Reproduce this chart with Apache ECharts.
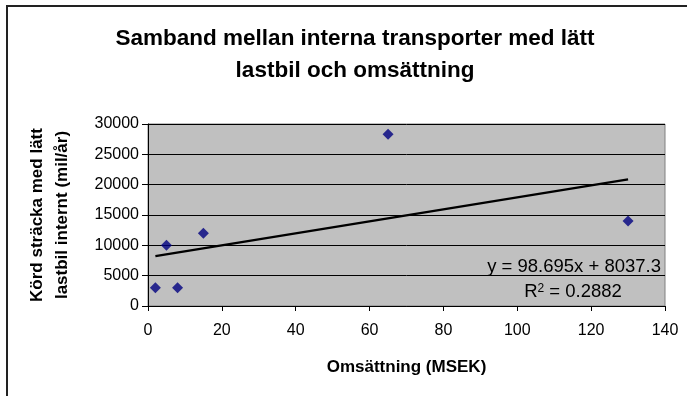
<!DOCTYPE html>
<html>
<head>
<meta charset="utf-8">
<script src="https://cdn.jsdelivr.net/npm/echarts@6/dist/echarts.min.js"></script>
<style>
  html, body { margin: 0; padding: 0; background: #ffffff; }
  #chart { width: 687px; height: 396px; }
</style>
</head>
<body>
<div id="chart"></div>
<script>
// Turnover (MSEK) and distance driven internally with light trucks (mil/year)
const omsattning = [2, 5, 8, 15, 65, 130];
const kordStracka = [3000, 10000, 3000, 12000, 28300, 14000];

// Linear trend line as stated in the label
const trendSlope = 98.695;
const trendIntercept = 8037.3;
const rSquared = 0.2882;

// Axis ranges
const xAxisRange = { min: 0, max: 140, interval: 20 };
const yAxisRange = { min: 0, max: 30000, interval: 5000 };

const FONT = '"Liberation Sans", Arial, sans-serif';

const points = omsattning.map((x, i) => [x, kordStracka[i]]);
const xMin = Math.min(...omsattning);
const xMax = Math.max(...omsattning);
const trend = [xMin, xMax].map(x => [x, trendSlope * x + trendIntercept]);

const chart = echarts.init(document.getElementById('chart'), null, { renderer: 'canvas' });

chart.setOption({
  backgroundColor: '#ffffff',
  animation: false,
  title: {
    text: 'Samband mellan interna transporter med lätt\nlastbil och omsättning',
    left: 350,
    top: 18,
    textAlign: 'center',
    textStyle: {
      fontFamily: FONT,
      fontSize: 22.5,
      fontWeight: 'bold',
      color: '#000000',
      lineHeight: 32
    }
  },
  grid: {
    left: 148,
    right: 22,
    top: 124,
    bottom: 90,
    show: true,
    backgroundColor: '#C0C0C0',
    borderColor: '#808080',
    borderWidth: 1
  },
  xAxis: {
    type: 'value',
    min: xAxisRange.min,
    max: xAxisRange.max,
    interval: xAxisRange.interval,
    name: 'Omsättning (MSEK)',
    nameLocation: 'middle',
    nameGap: 53,
    nameTextStyle: { fontFamily: FONT, fontSize: 17, fontWeight: 'bold', color: '#000' },
    axisLine: { show: true, lineStyle: { color: '#000', width: 1 } },
    axisTick: { show: true, length: 5, lineStyle: { color: '#000' } },
    axisLabel: { fontFamily: FONT, fontSize: 16, color: '#000', margin: 17 },
    splitLine: { show: false }
  },
  yAxis: {
    type: 'value',
    min: yAxisRange.min,
    max: yAxisRange.max,
    interval: yAxisRange.interval,
    name: 'Körd sträcka med lätt\nlastbil internt (mil/år)',
    nameLocation: 'middle',
    nameRotate: 90,
    nameGap: 73,
    nameTextStyle: { fontFamily: FONT, fontSize: 17, fontWeight: 'bold', color: '#000', lineHeight: 25 },
    axisLine: { show: true, lineStyle: { color: '#000', width: 1 } },
    axisTick: { show: true, length: 6, lineStyle: { color: '#000' } },
    axisLabel: { fontFamily: FONT, fontSize: 16, color: '#000', margin: 9, formatter: v => String(v) },
    splitLine: { show: true, lineStyle: { color: '#000', width: 1 } }
  },
  series: [
    {
      name: 'Körd sträcka',
      type: 'scatter',
      data: points,
      symbol: 'diamond',
      symbolSize: 11,
      itemStyle: { color: '#000080' },
      z: 3
    },
    {
      name: 'Linjär trend',
      type: 'line',
      data: trend,
      symbol: 'none',
      lineStyle: { color: '#000', width: 2.2 },
      z: 4
    }
  ],
  graphic: [
    {
      type: 'rect',
      silent: true,
      shape: { x: 7, y: 6, width: 720, height: 420 },
      style: { fill: 'none', stroke: '#222', lineWidth: 2 }
    },
    {
      type: 'text',
      x: 661,
      y: 267,
      style: {
        text: 'y = ' + trendSlope + 'x + ' + trendIntercept,
        font: '18.5px ' + FONT,
        fill: '#000',
        textAlign: 'right',
        textVerticalAlign: 'middle'
      }
    },
    {
      type: 'text',
      x: 573,
      y: 292,
      style: {
        text: '{b|R}{s|2}{b| = ' + rSquared + '}',
        textAlign: 'center',
        textVerticalAlign: 'middle',
        rich: {
          b: { fontFamily: FONT, fontSize: 18.5, color: '#000' },
          s: { fontFamily: FONT, fontSize: 12, color: '#000', verticalAlign: 'top', padding: [0, 0, 7, 0] }
        }
      }
    }
  ]
});
</script>
</body>
</html>
